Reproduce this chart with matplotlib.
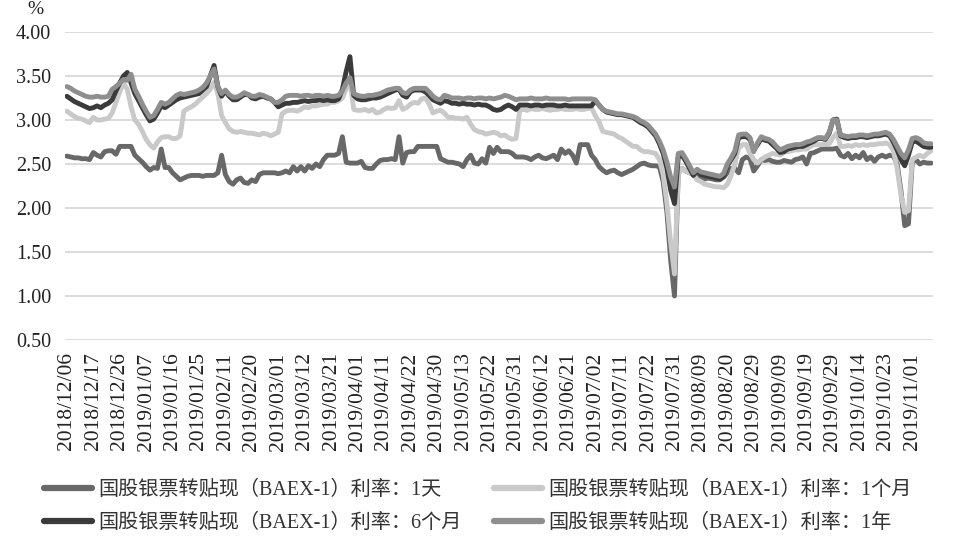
import numpy as np
import matplotlib
matplotlib.use("Agg")
import matplotlib.pyplot as plt
from matplotlib.lines import Line2D

# tick labels: every 7th trading day
tick_labels = ["2018/12/06", "2018/12/17", "2018/12/26", "2019/01/07", "2019/01/16",
               "2019/01/25", "2019/02/11", "2019/02/20", "2019/03/01", "2019/03/12",
               "2019/03/21", "2019/04/01", "2019/04/11", "2019/04/22", "2019/04/30",
               "2019/05/13", "2019/05/22", "2019/05/31", "2019/06/12", "2019/06/21",
               "2019/07/02", "2019/07/11", "2019/07/22", "2019/07/31", "2019/08/09",
               "2019/08/20", "2019/08/29", "2019/09/09", "2019/09/19", "2019/09/29",
               "2019/10/14", "2019/10/23", "2019/11/01"]
tick_step = 7

names = ["国股银票转贴现（BAEX-1）利率：1天",
         "国股银票转贴现（BAEX-1）利率：1个月",
         "国股银票转贴现（BAEX-1）利率：6个月",
         "国股银票转贴现（BAEX-1）利率：1年"]

rate_1d = [
    2.59, 2.58, 2.57, 2.57, 2.56, 2.56, 2.55, 2.63, 2.60, 2.58,
    2.64, 2.65, 2.65, 2.61, 2.70, 2.70, 2.70, 2.70, 2.60, 2.56,
    2.52, 2.47, 2.43, 2.46, 2.45, 2.67, 2.46, 2.46, 2.40, 2.36,
    2.32, 2.34, 2.36, 2.37, 2.37, 2.37, 2.36, 2.37, 2.37, 2.37,
    2.40, 2.60, 2.38, 2.30, 2.27, 2.32, 2.34, 2.29, 2.28, 2.32,
    2.30, 2.38, 2.40, 2.40, 2.40, 2.40, 2.39, 2.40, 2.42, 2.40,
    2.47, 2.42, 2.47, 2.42, 2.48, 2.45, 2.50, 2.47, 2.55, 2.60,
    2.60, 2.60, 2.62, 2.81, 2.52, 2.51, 2.51, 2.51, 2.53, 2.46,
    2.45, 2.45, 2.50, 2.54, 2.55, 2.55, 2.56, 2.55, 2.81, 2.51,
    2.63, 2.64, 2.64, 2.70, 2.70, 2.70, 2.70, 2.70, 2.70, 2.56,
    2.54, 2.52, 2.52, 2.51, 2.50, 2.47, 2.55, 2.60, 2.51, 2.50,
    2.56, 2.51, 2.69, 2.62, 2.69, 2.64, 2.64, 2.64, 2.62, 2.58,
    2.58, 2.58, 2.57, 2.55, 2.58, 2.60, 2.57, 2.56, 2.58, 2.60,
    2.55, 2.67, 2.62, 2.65, 2.60, 2.51, 2.72, 2.72, 2.72, 2.60,
    2.55, 2.47, 2.43, 2.40, 2.42, 2.43, 2.40, 2.38, 2.40, 2.42,
    2.44, 2.47, 2.50, 2.51, 2.49, 2.48, 2.48, 2.47, 2.30, 1.95,
    1.40, 1.00, 2.40, 2.45, 2.42, 2.40, 2.38, 2.35, 2.35, 2.33,
    2.34, 2.33, 2.32, 2.32, 2.35, 2.40, 2.45, 2.45, 2.40, 2.55,
    2.58, 2.56, 2.42, 2.48, 2.55, 2.54, 2.55, 2.53, 2.52, 2.52,
    2.54, 2.53, 2.52, 2.55, 2.56, 2.58, 2.50, 2.62, 2.63, 2.65,
    2.67, 2.67, 2.67, 2.67, 2.68, 2.60, 2.58, 2.62, 2.56, 2.60,
    2.57, 2.63, 2.55, 2.58, 2.53, 2.58, 2.60, 2.58, 2.60, 2.59,
    2.50, 2.20, 1.80, 1.82, 2.52, 2.55, 2.50, 2.52, 2.51, 2.51]

rate_1m = [
    3.10, 3.07, 3.04, 3.02, 3.01, 2.99, 2.97, 3.03, 3.00, 3.00,
    3.01, 3.02, 3.08, 3.20, 3.32, 3.42, 3.35, 3.15, 3.00, 2.95,
    2.87, 2.78, 2.72, 2.68, 2.75, 2.80, 2.81, 2.81, 2.79, 2.79,
    2.82, 3.10, 3.13, 3.15, 3.18, 3.22, 3.26, 3.30, 3.35, 3.43,
    3.30, 3.05, 2.97, 2.90, 2.87, 2.86, 2.87, 2.86, 2.85, 2.85,
    2.84, 2.83, 2.85, 2.84, 2.82, 2.84, 2.86, 3.07, 3.10, 3.11,
    3.11, 3.10, 3.12, 3.15, 3.14, 3.16, 3.16, 3.17, 3.18, 3.18,
    3.20, 3.20, 3.22, 3.25, 3.35, 3.45, 3.12, 3.11, 3.11, 3.12,
    3.10, 3.12, 3.08, 3.09, 3.12, 3.14, 3.13, 3.14, 3.22, 3.12,
    3.14, 3.18, 3.20, 3.19, 3.24, 3.25, 3.18, 3.08, 3.10, 3.11,
    3.08, 3.03, 3.03, 3.02, 3.02, 3.01, 3.03, 2.95, 2.89, 2.87,
    2.86, 2.84, 2.85, 2.86, 2.85, 2.82, 2.83, 2.80, 2.78, 2.79,
    3.11, 3.12, 3.11, 3.13, 3.12, 3.12, 3.13, 3.12, 3.11, 3.12,
    3.12, 3.13, 3.12, 3.12, 3.12, 3.13, 3.12, 3.12, 3.13, 3.14,
    3.05, 2.98, 2.87, 2.86, 2.85, 2.84, 2.81, 2.79, 2.76, 2.73,
    2.70, 2.70, 2.66, 2.64, 2.64, 2.63, 2.62, 2.55, 2.38, 2.05,
    1.60, 1.25, 2.38, 2.45, 2.42, 2.40, 2.38, 2.32, 2.30, 2.27,
    2.26, 2.25, 2.24, 2.24, 2.23, 2.27, 2.37, 2.50, 2.68, 2.72,
    2.72, 2.62, 2.55, 2.51, 2.55, 2.58, 2.60, 2.62, 2.61, 2.60,
    2.63, 2.64, 2.65, 2.66, 2.66, 2.67, 2.67, 2.70, 2.72, 2.72,
    2.72, 2.73, 2.73, 2.80, 2.85, 2.70, 2.70, 2.71, 2.70, 2.72,
    2.71, 2.72, 2.71, 2.72, 2.72, 2.73, 2.73, 2.74, 2.72, 2.65,
    2.45, 2.15, 1.95, 1.97, 2.55, 2.58, 2.60, 2.58, 2.62, 2.65]

rate_6m = [
    3.27, 3.24, 3.21, 3.19, 3.17, 3.15, 3.13, 3.14, 3.16, 3.14,
    3.17, 3.19, 3.23, 3.33, 3.42, 3.50, 3.54, 3.42, 3.30, 3.22,
    3.14, 3.06, 2.99, 3.01, 3.08, 3.16, 3.14, 3.17, 3.20, 3.23,
    3.25, 3.26, 3.27, 3.28, 3.29, 3.30, 3.34, 3.38, 3.50, 3.62,
    3.38, 3.27, 3.33, 3.27, 3.23, 3.23, 3.26, 3.29, 3.29, 3.25,
    3.24, 3.26, 3.27, 3.25, 3.24, 3.20, 3.15, 3.17, 3.19, 3.19,
    3.20, 3.20, 3.21, 3.22, 3.21, 3.22, 3.22, 3.23, 3.22, 3.23,
    3.22, 3.22, 3.24, 3.35, 3.55, 3.72, 3.28, 3.24, 3.23, 3.23,
    3.24, 3.25, 3.25, 3.26, 3.28, 3.30, 3.32, 3.34, 3.35, 3.28,
    3.26, 3.32, 3.34, 3.34, 3.34, 3.32, 3.28, 3.23, 3.21, 3.19,
    3.22, 3.21, 3.19, 3.19, 3.18, 3.19, 3.18, 3.18, 3.17, 3.18,
    3.17, 3.17, 3.15, 3.12, 3.11, 3.12, 3.15, 3.17, 3.15, 3.12,
    3.17, 3.17, 3.17, 3.16, 3.17, 3.17, 3.16, 3.17, 3.17, 3.17,
    3.16, 3.16, 3.17, 3.16, 3.16, 3.16, 3.16, 3.16, 3.16, 3.16,
    3.22, 3.17, 3.12, 3.09, 3.08, 3.07, 3.06, 3.06, 3.05, 3.04,
    3.03, 3.00, 2.97, 2.95, 2.92, 2.87, 2.82, 2.73, 2.62, 2.45,
    2.20, 2.05, 2.58, 2.60, 2.53, 2.45, 2.37, 2.42, 2.38, 2.37,
    2.36, 2.35, 2.34, 2.33, 2.36, 2.48, 2.55, 2.62, 2.80, 2.81,
    2.81, 2.78, 2.66, 2.72, 2.79, 2.77, 2.76, 2.72, 2.68, 2.63,
    2.64, 2.67, 2.68, 2.69, 2.70, 2.70, 2.72, 2.74, 2.76, 2.79,
    2.79, 2.78, 2.85, 3.00, 3.01, 2.82, 2.80, 2.79, 2.80, 2.80,
    2.81, 2.81, 2.80, 2.81, 2.82, 2.82, 2.83, 2.84, 2.82, 2.75,
    2.66, 2.55, 2.48, 2.60, 2.75, 2.76, 2.73, 2.70, 2.69, 2.69]

rate_1y = [
    3.38, 3.36, 3.33, 3.31, 3.29, 3.27, 3.26, 3.26, 3.27, 3.26,
    3.26, 3.27, 3.35, 3.38, 3.42, 3.46, 3.45, 3.52, 3.35, 3.27,
    3.18, 3.10, 3.03, 3.05, 3.12, 3.20, 3.18, 3.20, 3.24, 3.28,
    3.30, 3.29, 3.30, 3.31, 3.32, 3.34, 3.37, 3.42, 3.50, 3.58,
    3.38, 3.30, 3.34, 3.29, 3.26, 3.26, 3.28, 3.31, 3.29, 3.27,
    3.27, 3.29, 3.28, 3.26, 3.24, 3.20, 3.20, 3.23, 3.27, 3.28,
    3.28, 3.28, 3.27, 3.28, 3.28, 3.27, 3.28, 3.28, 3.27, 3.28,
    3.27, 3.27, 3.28, 3.33, 3.42, 3.48, 3.30, 3.28, 3.27, 3.27,
    3.28, 3.28, 3.29, 3.30, 3.32, 3.34, 3.35, 3.36, 3.36, 3.31,
    3.30, 3.34, 3.36, 3.36, 3.36, 3.36, 3.32, 3.27, 3.24, 3.23,
    3.28, 3.27, 3.25, 3.25, 3.25, 3.24, 3.25, 3.25, 3.24, 3.25,
    3.25, 3.24, 3.25, 3.24, 3.25, 3.26, 3.28, 3.27, 3.25, 3.23,
    3.24, 3.24, 3.24, 3.25, 3.24, 3.24, 3.24, 3.25, 3.24, 3.24,
    3.24, 3.24, 3.24, 3.23, 3.24, 3.24, 3.24, 3.24, 3.24, 3.24,
    3.23, 3.17, 3.12, 3.10, 3.09, 3.08, 3.07, 3.07, 3.06, 3.05,
    3.04, 3.02, 2.99, 2.97, 2.94, 2.89, 2.84, 2.76, 2.66, 2.52,
    2.35, 2.24, 2.62, 2.63, 2.56, 2.48, 2.40, 2.44, 2.41, 2.40,
    2.39, 2.38, 2.37, 2.36, 2.39, 2.50, 2.57, 2.65, 2.83, 2.84,
    2.84, 2.80, 2.64, 2.74, 2.81, 2.79, 2.78, 2.75, 2.70, 2.66,
    2.68, 2.70, 2.71, 2.72, 2.72, 2.73, 2.75, 2.76, 2.78, 2.80,
    2.80, 2.79, 2.86, 3.00, 3.00, 2.83, 2.82, 2.81, 2.82, 2.82,
    2.83, 2.83, 2.82, 2.83, 2.84, 2.84, 2.85, 2.86, 2.84, 2.78,
    2.70, 2.62, 2.57, 2.66, 2.79, 2.80, 2.78, 2.74, 2.73, 2.73]

colors = ["#686868", "#c9c9c9", "#3b3b3b", "#8e8e8e"]
series = [rate_1d, rate_1m, rate_6m, rate_1y]

serif = ["Liberation Serif", "DejaVu Serif"]
mixed = ["Liberation Serif", "Noto Sans CJK SC"]

fig = plt.figure(figsize=(9.6, 5.47), dpi=100)
ax = fig.add_axes([65 / 960, 1 - 340 / 547, (933 - 65) / 960, (340 - 32) / 547])

n = len(rate_1d)
x = np.arange(n)
for vals, c, name in zip(series, colors, names):
    ax.plot(x, vals, color=c, lw=3.5, solid_joinstyle="round",
            solid_capstyle="round", label=name)

ax.set_xlim(-0.5, n - 0.5)
ax.set_ylim(0.5, 4.0)
yt = np.arange(0.5, 4.01, 0.5)
ax.set_yticks(yt)
ax.set_yticklabels([f"{v:.2f}" for v in yt], fontfamily=serif, fontsize=14.5,
                   color="#222222")
ax.set_xticks(np.arange(0, len(tick_labels) * tick_step, tick_step))
ax.set_xticklabels(tick_labels, rotation=90, fontfamily=serif, fontsize=15.5,
                   color="#222222")
ax.tick_params(axis="both", length=0)
ax.tick_params(axis="x", pad=9)
ax.tick_params(axis="y", pad=10)
ax.grid(axis="y", color="#d9d9d9", lw=1.3)
ax.set_axisbelow(True)
for s in ax.spines.values():
    s.set_visible(False)

fig.text(27 / 960, 1 - 10 / 547, "%", fontfamily=serif, fontsize=14,
         ha="left", va="center", color="#222222")

order = [0, 2, 1, 3]
handles = [Line2D([0], [0], color=colors[k], lw=4.5, solid_capstyle="round") for k in order]
fig.legend(handles, [names[k] for k in order], ncol=2, loc="center left",
           bbox_to_anchor=(26 / 960, 1 - 507 / 547), frameon=False,
           prop={"family": mixed, "size": 14.5}, labelcolor="#333333",
           handlelength=2.4, handletextpad=0.3, columnspacing=1.6,
           labelspacing=0.7)

fig.savefig("out.png", dpi=100)
